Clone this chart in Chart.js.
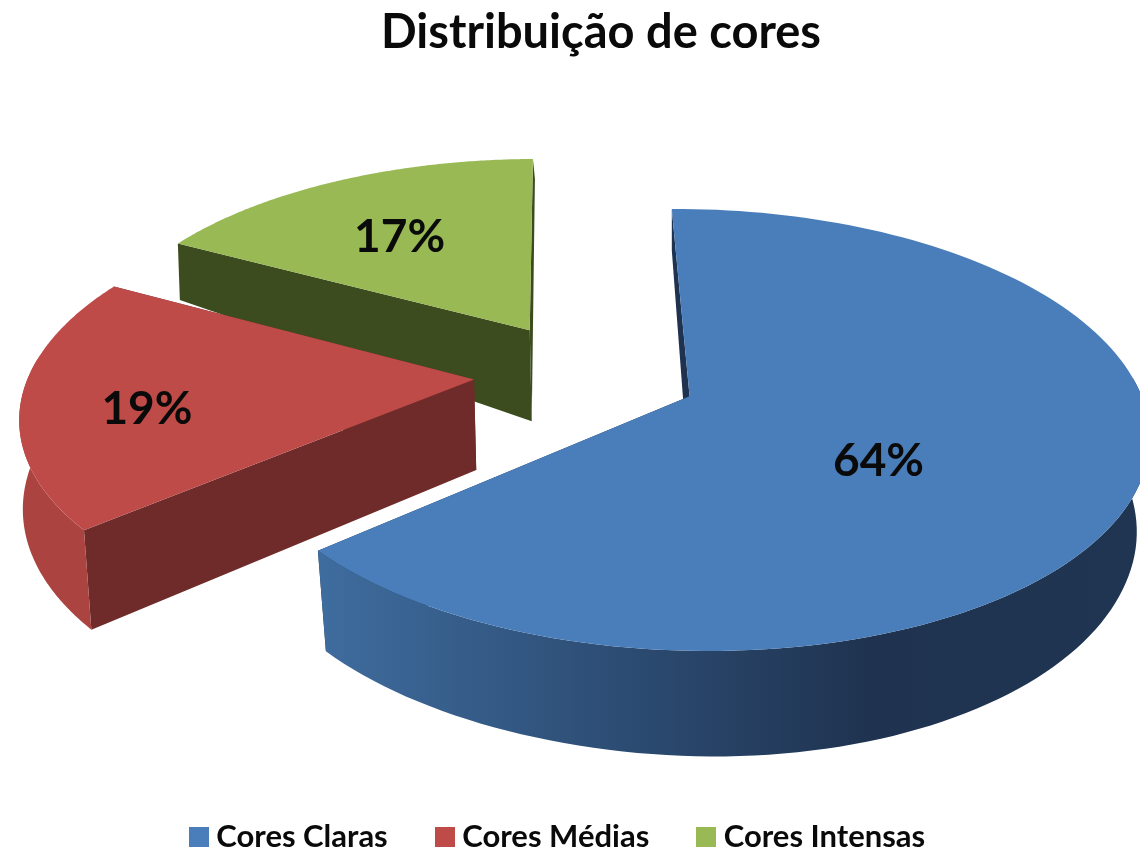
<!DOCTYPE html>
<html>
<head>
<meta charset="utf-8">
<title>Distribuição de cores</title>
<script src="https://cdn.jsdelivr.net/npm/chart.js@4/dist/chart.umd.min.js"></script>
<style>
  html, body { margin: 0; padding: 0; background: #ffffff; }
  canvas { display: block; }
</style>
</head>
<body>
<canvas id="pieChart" width="1140" height="853"></canvas>
<script>
// ----- DATA -----
const categories = ["Cores Claras", "Cores Médias", "Cores Intensas"];
const shares = [64, 19, 17];

// ----- COLOURS -----
const topColors = ["#4a7ebb", "#be4b48", "#98b954"];
const faceColors = ["#1f3350", "#6e2b29", "#3d4c1f"];
const wallStops = [
  ["#3f6d9f", "#2e4f77", "#1f3350", "#1f3552"],
  ["#ab4441", "#a8423f", "#a8423f", "#a8423f"],
  ["#3d4c1f", "#3d4c1f", "#3d4c1f", "#3d4c1f"]
];

// ----- FAKE 3D PROJECTION -----
const view = { cx: 586, cy: 374, radius: 445, tilt: 0.47, persp: 0.15, explode: 0.252 };
const labelDist = [0.485, 0.725, 0.61];
const labelTurn = [12, -5, -2];

function project(u, v) {
  const f = 1 / (1 - view.persp * v);
  return { x: view.cx + view.radius * u * f, y: view.cy + view.radius * view.tilt * v * f };
}

// depth of the side walls, it shrinks fast towards the back of the pie
function depthAt(v) {
  if (v > -0.2) return 90 + 14 * v;
  return Math.max(20, 92 - 73 * (-0.2 - v));
}

// the lower ring is a bit narrower than the top one
function dropPoint(u, v) {
  const p = project(u, v);
  const w = Math.min(1, Math.max(0, (p.x - 600) / 540));
  const dx = (1 - w) * (2 + 8 * Math.max(v, 0)) - w * 13;
  return { x: p.x + dx, y: p.y + depthAt(v) };
}

function paint(ctx, pts, style) {
  ctx.beginPath();
  pts.forEach((p, i) => (i ? ctx.lineTo(p.x, p.y) : ctx.moveTo(p.x, p.y)));
  ctx.closePath();
  ctx.fillStyle = style;
  ctx.fill();
}

function drawSlice(ctx, arc, i) {
  const { startAngle, endAngle } = arc.getProps(["startAngle", "endAngle"]);
  const mid = (startAngle + endAngle) / 2;
  const ou = Math.cos(mid) * view.explode;
  const ov = Math.sin(mid) * view.explode;
  const steps = 140;
  const rim = [];
  const front = [];
  for (let s = 0; s <= steps; s++) {
    const a = startAngle + (endAngle - startAngle) * s / steps;
    const r = [ou + Math.cos(a), ov + Math.sin(a)];
    rim.push(r);
    if (Math.sin(a) > -0.1) front.push(r);
  }

  // radial faces
  [rim[0], rim[steps]].forEach((r) => {
    paint(ctx, [project(ou, ov), project(r[0], r[1]), dropPoint(r[0], r[1]), dropPoint(ou, ov)], faceColors[i]);
  });

  // outer wall, only the part that faces us
  if (front.length > 1) {
    const grad = ctx.createLinearGradient(view.cx - 270, 0, view.cx + 560, 0);
    wallStops[i].forEach((c, n) => grad.addColorStop(n / 3, c));
    const wall = front.map((r) => project(r[0], r[1]))
      .concat(front.slice().reverse().map((r) => dropPoint(r[0], r[1])));
    paint(ctx, wall, grad);
  }

  // top
  paint(ctx, [project(ou, ov)].concat(rim.map((r) => project(r[0], r[1]))), topColors[i]);
}

// legend swatches as small canvases, so the gap to the text can be as tight as in the original
const swatches = topColors.map((c) => {
  const box = document.createElement("canvas");
  box.width = 20;
  box.height = 20;
  const g = box.getContext("2d");
  g.fillStyle = c;
  g.fillRect(0, 0, 20, 20);
  return box;
});

const pie3d = {
  id: "pie3d",
  afterLayout(chart) {
    // title sits right of the legend centre in the original
    chart.titleBlock.left += 40;
    chart.titleBlock.right += 40;
    // legend item padding also pads it vertically, push it back down
    chart.legend.top += 9;
    chart.legend.bottom += 9;
  },
  beforeDatasetDraw(chart, args) {
    const ctx = chart.ctx;
    const arcs = args.meta.data;
    ctx.save();
    // back slices first
    [2, 1, 0].forEach((i) => drawSlice(ctx, arcs[i], i));

    ctx.font = "bold 46px Lato";
    ctx.fillStyle = "#0a0a0a";
    ctx.textAlign = "center";
    ctx.textBaseline = "middle";
    arcs.forEach((arc, i) => {
      const p = arc.getProps(["startAngle", "endAngle"]);
      const mid = (p.startAngle + p.endAngle) / 2;
      const turned = mid + labelTurn[i] * Math.PI / 180;
      const pos = project(
        Math.cos(mid) * view.explode + Math.cos(turned) * labelDist[i],
        Math.sin(mid) * view.explode + Math.sin(turned) * labelDist[i]
      );
      ctx.fillText(shares[i] + "%", pos.x, pos.y);
    });
    ctx.restore();
    return false;
  }
};

new Chart(document.getElementById("pieChart").getContext("2d"), {
  type: "pie",
  data: {
    labels: categories,
    datasets: [{
      data: shares,
      backgroundColor: topColors,
      borderWidth: 0
    }]
  },
  plugins: [pie3d],
  options: {
    responsive: false,
    animation: false,
    rotation: -0.6,
    layout: { padding: { right: 18 } },
    plugins: {
      tooltip: { enabled: false },
      title: {
        display: true,
        text: "Distribuição de cores",
        color: "#0a0a0a",
        font: { family: "Lato", size: 47, weight: "bold" },
        padding: { top: 5, bottom: 10 }
      },
      legend: {
        position: "bottom",
        labels: {
          color: "#0a0a0a",
          font: { family: "Lato", size: 31, weight: "bold" },
          usePointStyle: true,
          boxWidth: 4,
          padding: 55,
          generateLabels: (chart) => Chart.overrides.pie.plugins.legend.labels.generateLabels(chart)
            .map((item, i) => ({ ...item, pointStyle: swatches[i] }))
        }
      }
    }
  }
});
</script>
</body>
</html>
